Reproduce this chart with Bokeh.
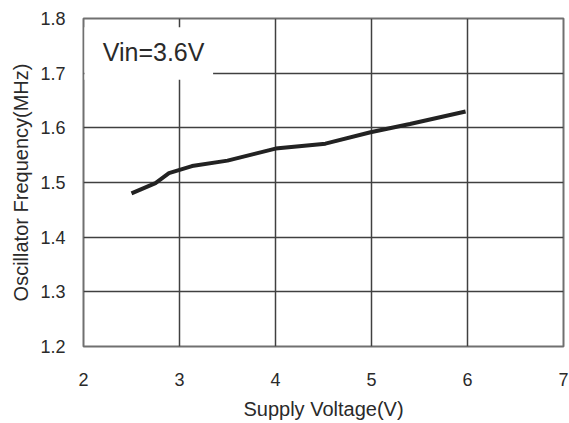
from bokeh.plotting import figure
from bokeh.models import Label, BoxAnnotation, FixedTicker, Range1d
from bokeh.embed import file_html
from bokeh.resources import INLINE

voltage = [2.5, 2.75, 2.89, 3.13, 3.5, 4.0, 4.52, 4.99, 5.4, 5.98]
frequency = [1.48, 1.499, 1.517, 1.53, 1.54, 1.562, 1.571, 1.592, 1.607, 1.63]
x_ticks = [2, 3, 4, 5, 6, 7]
y_ticks = [1.2, 1.3, 1.4, 1.5, 1.6, 1.7, 1.8]
annotation_text = "Vin=3.6V"

FONT = "Liberation Sans"
TXT = "#2a2a2a"

p = figure(width=569, height=423, output_backend="svg", toolbar_location=None,
           x_range=Range1d(2, 7), y_range=Range1d(1.2, 1.8),
           min_border_left=83, min_border_top=18, min_border_right=6, min_border_bottom=77)
p.background_fill_color = "white"
p.border_fill_color = "white"
p.outline_line_color = "#707070"
p.outline_line_width = 2

p.xaxis.ticker = FixedTicker(ticks=x_ticks)
p.yaxis.ticker = FixedTicker(ticks=y_ticks)
p.yaxis.formatter.use_scientific = False
for ax in (p.xaxis[0], p.yaxis[0]):
    ax.axis_line_color = None
    ax.major_tick_line_color = None
    ax.minor_tick_line_color = None
    ax.major_label_text_font = FONT
    ax.major_label_text_font_size = "18px"
    ax.major_label_text_color = TXT
    ax.axis_label_text_font = FONT
    ax.axis_label_text_font_size = "20px"
    ax.axis_label_text_font_style = "normal"
    ax.axis_label_text_color = TXT
p.xaxis.major_label_standoff = 20
p.yaxis.major_label_standoff = 12
p.xaxis.axis_label = "Supply Voltage(V)"
p.yaxis.axis_label = "Oscillator Frequency(MHz)"
p.xaxis.axis_label_standoff = 9
p.yaxis.axis_label_standoff = 5

p.grid.grid_line_color = "#404040"
p.grid.grid_line_width = 1.5
p.xgrid.ticker = FixedTicker(ticks=x_ticks[1:-1])
p.ygrid.ticker = FixedTicker(ticks=y_ticks[1:-1])

p.line(voltage, frequency, line_color="#222222", line_width=4)

box = BoxAnnotation(left=2.01, right=3.35, bottom=1.688, top=1.784,
                    fill_color="white", fill_alpha=1.0, line_color=None)
p.add_layout(box)
p.add_layout(Label(x=2.2, y=1.738, text=annotation_text, text_font=FONT,
                   text_font_size="25px", text_color=TXT, text_baseline="middle"))

open("out.html", "w").write(file_html(p, INLINE))
